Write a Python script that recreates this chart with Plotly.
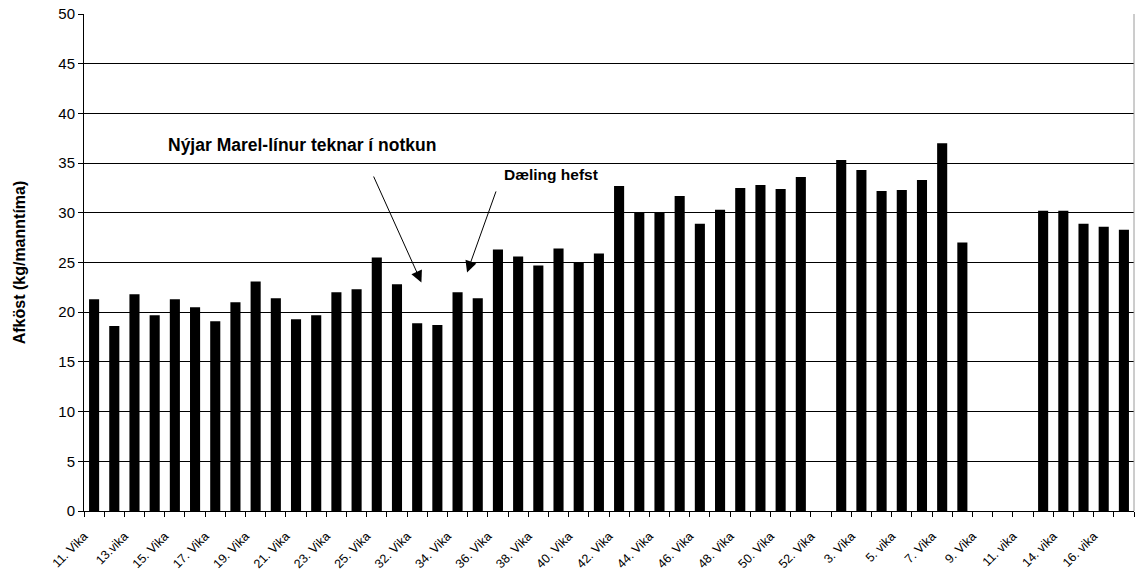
import plotly.graph_objects as go

categories = [
    "11. Vika", "12. Vika", "13.vika", "14. Vika", "15. Vika", "16. Vika", "17. Vika", "18. Vika",
    "19. Vika", "20. Vika", "21. Vika", "22. Vika", "23. Vika", "24. Vika", "25. Vika", "31. Vika",
    "32. Vika", "33. Vika", "34. Vika", "35. Vika", "36. Vika", "37. Vika", "38. Vika", "39. Vika",
    "40. Vika", "41. Vika", "42. Vika", "43. Vika", "44. Vika", "45. Vika", "46. Vika", "47. Vika",
    "48. Vika", "49. Vika", "50. Vika", "51. Vika", "52. Vika", "2. Vika", "3. Vika", "4. Vika",
    "5. vika", "6. vika", "7. Vika", "8. Vika", "9. Vika", "10. Vika", "11. vika", "13. vika",
    "14. vika", "15. vika", "16. vika", "17. vika",
]

afkost = [
    21.3, 18.6, 21.8, 19.7, 21.3, 20.5, 19.1, 21.0,
    23.1, 21.4, 19.3, 19.7, 22.0, 22.3, 25.5, 22.8,
    18.9, 18.7, 22.0, 21.4, 26.3, 25.6, 24.7, 26.4,
    25.0, 25.9, 32.7, 30.0, 30.0, 31.7, 28.9, 30.3,
    32.5, 32.8, 32.4, 33.6, None, 35.3, 34.3, 32.2,
    32.3, 33.3, 37.0, 27.0, None, None, None, 30.2,
    30.2, 28.9, 28.6, 28.3,
]

y_title = "Afköst (kg/manntíma)"
note_marel = "Nýjar Marel-línur teknar í notkun"
note_daeling = "Dæling hefst"

FONT = "Arial, 'Liberation Sans', sans-serif"

idx = list(range(len(categories)))
label_idx = idx[::2]
label_txt = [categories[i] for i in label_idx]
boundaries = [i - 0.5 for i in range(len(categories) + 1)]

fig = go.Figure()
fig.add_trace(go.Bar(
    x=idx, y=afkost,
    marker=dict(color="black", line=dict(width=0)),
    hovertext=categories, showlegend=False,
))

fig.update_layout(
    width=1138, height=579,
    margin=dict(l=84, r=4, t=14, b=68),
    paper_bgcolor="white", plot_bgcolor="white",
    bargap=0.5,
    font=dict(family=FONT, color="black", size=14),
    xaxis=dict(
        range=[-0.5, len(categories) - 0.5],
        tickmode="array", tickvals=label_idx, ticktext=label_txt,
        tickangle=-45, ticks="", tickfont=dict(size=12.5),
        ticklabelstandoff=12, ticklabelshift=-10,
        automargin=False,
        showgrid=False, zeroline=False,
        showline=True, linecolor="black", linewidth=1,
        minor=dict(tickmode="array", tickvals=boundaries, ticks="outside",
                   ticklen=5, tickcolor="black", tickwidth=1, showgrid=False),
    ),
    yaxis=dict(
        range=[0, 50], dtick=5, tick0=0,
        ticks="outside", ticklen=5, tickcolor="black",
        tickfont=dict(size=15),
        automargin=False,
        showgrid=True, gridcolor="black", gridwidth=1,
        zeroline=False,
        showline=True, linecolor="black", linewidth=1,
        title=dict(text="<b>" + y_title + "</b>", font=dict(size=16), standoff=28),
    ),
)

# right border of the plot area
fig.add_shape(type="line", xref="paper", yref="paper", x0=1, x1=1, y0=0, y1=1,
              line=dict(color="#9a9a9a", width=1))

fig.add_annotation(x=3.58, y=36.8, xref="x", yref="y", text="<b>" + note_marel + "</b>",
                   showarrow=False, xanchor="left", yanchor="middle",
                   font=dict(size=17.5, family=FONT))
fig.add_annotation(x=20.2, y=33.9, xref="x", yref="y", text="<b>" + note_daeling + "</b>",
                   showarrow=False, xanchor="left", yanchor="middle",
                   font=dict(size=15.5, family=FONT))

fig.add_annotation(x=16.21, y=23.0, ax=13.81, ay=33.8, xref="x", yref="y",
                   axref="x", ayref="y", text="", showarrow=True,
                   arrowhead=2, arrowsize=2.3, arrowwidth=1, arrowcolor="black", standoff=0)
fig.add_annotation(x=18.47, y=24.0, ax=19.93, ay=32.3, xref="x", yref="y",
                   axref="x", ayref="y", text="", showarrow=True,
                   arrowhead=2, arrowsize=2.3, arrowwidth=1, arrowcolor="black", standoff=0)

fig.write_html("out.html", config={"displayModeBar": False},
               post_script="document.body.style.margin='0';")
